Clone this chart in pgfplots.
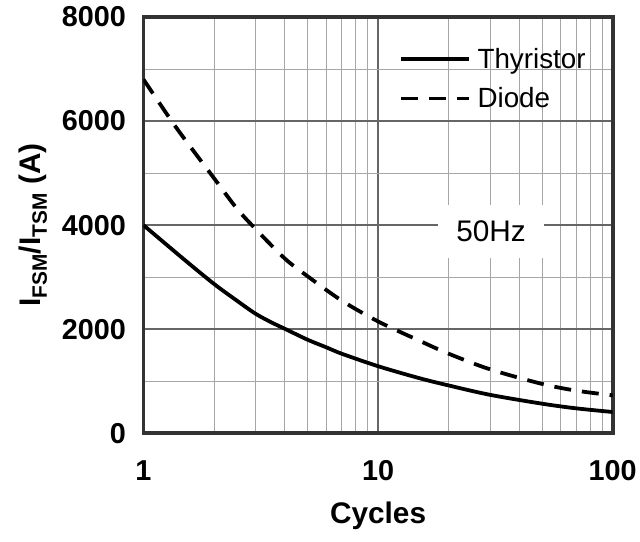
\documentclass[border=0pt]{standalone}
\usepackage{fontspec}
\setmainfont{Liberation Sans}
\usepackage{pgfplots}
\pgfplotsset{compat=1.18}
\usetikzlibrary{calc}

\pgfplotstableread{
x     y
1     4000
1.5   3330
2     2870
2.5   2550
3     2300
3.5   2135
4     2010
5     1800
6     1655
7     1530
10    1290
15    1060
20    920
30    740
50    570
70    480
100   410
}\thyristor

\pgfplotstableread{
x     y
1     6800
1.3   6040
1.5   5650
2     4900
2.5   4320
3     3930
4     3360
5     3020
7     2550
10    2150
15    1780
20    1530
30    1230
50    950
70    820
100   730
}\diode

\begin{document}
\begin{tikzpicture}
\begin{axis}[
  scale only axis,
  width=471bp, height=418bp,
  xmode=log,
  xmin=1, xmax=100,
  ymin=0, ymax=8000,
  xtick={1,10,100},
  xticklabels={1,10,100},
  ytick={0,2000,4000,6000,8000},
  minor ytick={1000,3000,5000,7000},
  scaled y ticks=false,
  yticklabel style={/pgf/number format/fixed, /pgf/number format/1000 sep={}},
  /pgf/number format/assume math mode=true,
  grid=both,
  major grid style={line width=1.8bp, black!60},
  minor grid style={line width=0.9bp, black!35},
  major tick length=0pt, minor tick length=0pt,
  axis line style={line width=3.8bp, black!80},
  tick label style={font=\fontsize{29}{33}\selectfont\bfseries},
  xticklabel style={yshift=-24bp},
  yticklabel style={xshift=-14bp},
  xlabel={\bfseries Cycles},
  ylabel={\bfseries I\textsubscript{FSM}/I\textsubscript{TSM} (A)},
  label style={font=\fontsize{30}{34}\selectfont},
  xlabel style={yshift=-14bp},
  ylabel style={yshift=8bp},
  legend cell align=left,
  legend style={at={(rel axis cs:0.947,0.93)}, anchor=north east,
    draw=none, fill=none, font=\fontsize{28}{32}\selectfont,
    row sep=14bp, inner sep=0pt},
  legend image code/.code={\draw[#1, line width=3.5bp] (0bp,0bp) -- (68bp,0bp); \path (73bp,0bp);},
]
\addplot[black, line width=3.8bp, smooth] table[x=x, y=y] {\thyristor};
\addplot[black, line width=3.8bp, smooth, dash pattern=on 17bp off 11bp] table[x=x, y=y] {\diode};
\legend{Thyristor, Diode}
\node[fill=white, inner xsep=18bp, inner ysep=16bp,
  font=\fontsize{30}{34}\selectfont] at (axis cs:30.3,3885) {50Hz};
\end{axis}
\path ($(current axis.south west)+(-144bp,-109bp)$) rectangle ($(current axis.north east)+(25bp,17bp)$);
\end{tikzpicture}
\end{document}
